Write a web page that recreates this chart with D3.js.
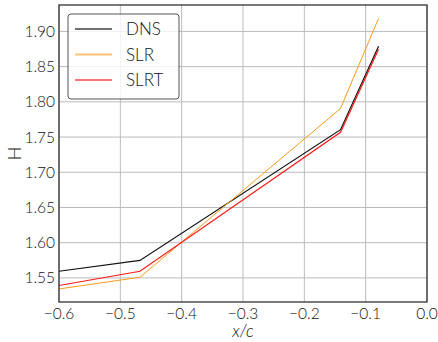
<!DOCTYPE html>
<html>
<head>
<meta charset="utf-8">
<script src="https://cdn.jsdelivr.net/npm/d3@7"></script>
<style>
  html, body { margin: 0; padding: 0; background: #fff; }
  svg text { font-family: Lato, "Open Sans", sans-serif; font-weight: 300; fill: #111; }
</style>
</head>
<body>
<div id="chart"></div>
<script>
// x/c stations
const xPos = [-0.6, -0.468, -0.141, -0.079];
// shape factor H for each model
const dns  = [1.5595, 1.5748, 1.7605, 1.879];
const slr  = [1.5343, 1.5510, 1.7905, 1.9185];
const slrt = [1.5392, 1.5595, 1.7567, 1.8745];

const xTicks = [-0.6, -0.5, -0.4, -0.3, -0.2, -0.1, 0.0];
const yTicks = [1.55, 1.60, 1.65, 1.70, 1.75, 1.80, 1.85, 1.90];

const series = [
  { name: 'DNS',  values: dns,  color: '#111111', width: 1.2 },
  { name: 'SLR',  values: slr,  color: '#ff9a1a', width: 1.0 },
  { name: 'SLRT', values: slrt, color: '#ff1a1a', width: 1.2 }
];

const width = 438, height = 342;
const margin = { top: 5, right: 11, bottom: 40, left: 59 };
const innerW = width - margin.left - margin.right;
const innerH = height - margin.top - margin.bottom;

const svg = d3.select('#chart').append('svg')
  .attr('width', width)
  .attr('height', height);

const g = svg.append('g')
  .attr('transform', `translate(${margin.left},${margin.top})`);

const x = d3.scaleLinear().domain([-0.6, 0.0]).range([0, innerW]);
const y = d3.scaleLinear().domain([1.5158, 1.9375]).range([innerH, 0]);

// grid
g.append('g').selectAll('line').data(xTicks).enter().append('line')
  .attr('x1', d => x(d)).attr('x2', d => x(d))
  .attr('y1', 0).attr('y2', innerH)
  .attr('stroke', '#bbbbbb').attr('stroke-width', 1);
g.append('g').selectAll('line').data(yTicks).enter().append('line')
  .attr('x1', 0).attr('x2', innerW)
  .attr('y1', d => y(d)).attr('y2', d => y(d))
  .attr('stroke', '#bbbbbb').attr('stroke-width', 1);

// lines
const line = d3.line()
  .x((d, i) => x(xPos[i]))
  .y(d => y(d));

series.forEach(s => {
  g.append('path')
    .datum(s.values)
    .attr('fill', 'none')
    .attr('stroke', s.color)
    .attr('stroke-width', s.width)
    .attr('d', line);
});

// frame
g.append('rect')
  .attr('width', innerW).attr('height', innerH)
  .attr('fill', 'none').attr('stroke', '#333').attr('stroke-width', 1.3);

// tick labels
const fmtX = d => d === 0 ? '0.0' : d3.format('.1f')(d).replace('-', '\u2212');
g.append('g').selectAll('text').data(xTicks).enter().append('text')
  .attr('x', d => x(d)).attr('y', innerH + 17)
  .attr('text-anchor', 'middle')
  .style('font-size', '15.5px')
  .text(fmtX);

g.append('g').selectAll('text').data(yTicks).enter().append('text')
  .attr('x', -4).attr('y', d => y(d)).attr('dy', '0.36em')
  .attr('text-anchor', 'end')
  .style('font-size', '15.5px')
  .text(d => d3.format('.2f')(d));

// axis titles
svg.append('text')
  .attr('x', margin.left + x(-0.3)).attr('y', 337)
  .attr('text-anchor', 'middle')
  .style('font-size', '17px').style('font-style', 'italic')
  .text('x/c');

svg.append('text')
  .attr('transform', `translate(21,${margin.top + innerH / 2}) rotate(-90)`)
  .attr('text-anchor', 'middle')
  .style('font-size', '18px')
  .text('H');

// legend
const lg = svg.append('g').attr('transform', 'translate(68,14)');
lg.append('rect')
  .attr('width', 111).attr('height', 85).attr('rx', 3)
  .attr('fill', '#fff').attr('fill-opacity', 0.8)
  .attr('stroke', '#555').attr('stroke-width', 1);
series.forEach((s, i) => {
  const yy = 15 + i * 25.5;
  lg.append('line')
    .attr('x1', 7).attr('x2', 44).attr('y1', yy).attr('y2', yy)
    .attr('stroke', s.color).attr('stroke-width', s.width + 0.8)
    .attr('stroke-opacity', 0.6);
  lg.append('text')
    .attr('x', 58).attr('y', yy).attr('dy', '0.36em')
    .style('font-size', '17px')
    .text(s.name);
});
</script>
</body>
</html>
